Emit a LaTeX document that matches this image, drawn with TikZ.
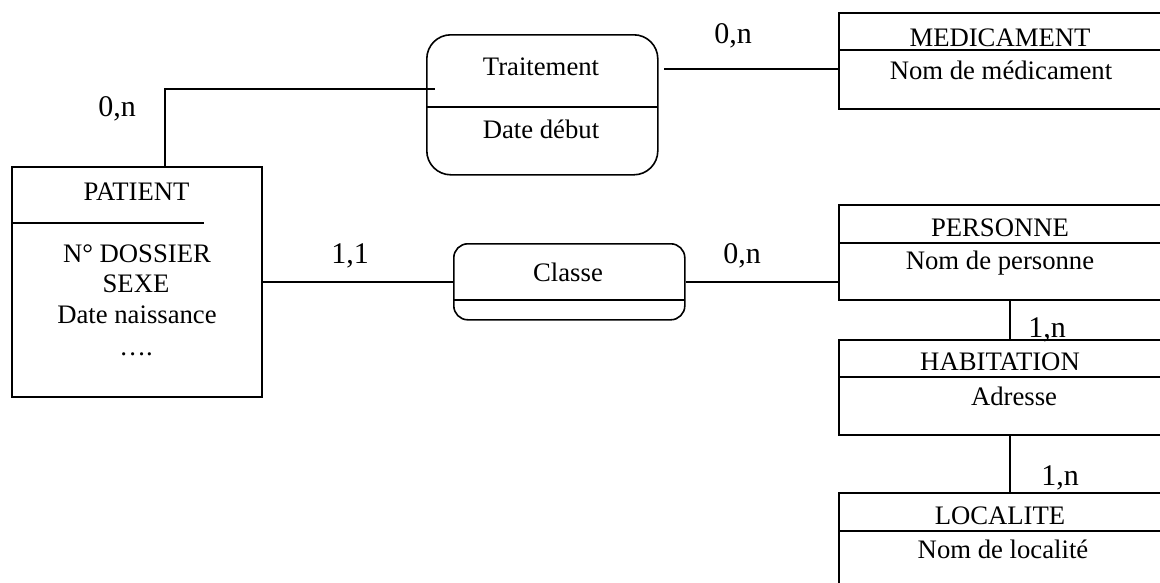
\documentclass[tikz,border=0pt]{standalone}
\usepackage{fontspec}
\setmainfont{Liberation Serif}
\usetikzlibrary{positioning}

\tikzset{
	entite/.style={draw, rectangle, anchor=north west, inner sep=0pt},
	assoc/.style={draw, rectangle, rounded corners=#1, anchor=north west, inner sep=0pt},
	txt/.style={anchor=base, inner sep=0pt, font=\fontsize{26.7}{30}\selectfont},
	card/.style={anchor=base, inner sep=0pt, font=\fontsize{30}{34}\selectfont}
}

\begin{document}
\begin{tikzpicture}[x=1pt, y=-1pt, line width=1.6pt]
	\clip (0,0) rectangle (1160,582);
	\useasboundingbox (0,0) rectangle (1160,582);
	% entites et associations
	\node[entite, minimum width=250pt, minimum height=230pt] (patient) at (11,166) {};
	\node[assoc=24pt, minimum width=231pt, minimum height=140pt] (traitement) at (426,34) {};
	\node[assoc=14pt, minimum width=231pt, minimum height=76pt] (classe) at (453,243) {};
	\node[entite, minimum width=324pt, minimum height=96pt] (medic) at (838,12) {};
	\node[entite, minimum width=324pt, minimum height=95pt] (personne) at (838,204) {};
	\node[entite, minimum width=324pt, minimum height=95pt] (habitation) at (838,339) {};
	\node[entite, minimum width=324pt, minimum height=100pt] (localite) at (838,492) {};
	\draw (11,223) -- (204,223);
	\draw (426,107) -- (657,107);
	\draw (453,300) -- (684,300);
	\draw (838,50) -- (1162,50);
	\draw (838,243) -- (1162,243);
	\draw (838,377) -- (1162,377);
	\draw (838,531) -- (1162,531);
	% textes
	\node[txt] (patient-nom) at (136.5,200) {PATIENT};
	\node[txt] (patient-a1) at (137,262) {N° DOSSIER};
	\node[txt] (patient-a2) at (136,292) {SEXE};
	\node[txt] (patient-a3) at (137,323) {Date naissance};
	\node[txt] (patient-a4) at (136,355) {….};
	\node[txt] (traitement-nom) at (541,75) {Traitement};
	\node[txt] (traitement-a1) at (541,138) {Date début};
	\node[txt] (classe-nom) at (568,281) {Classe};
	\node[txt] (medic-nom) at (1000,46.5) {MEDICAMENT};
	\node[txt] (medic-a1) at (1001,79) {Nom de médicament};
	\node[txt] (personne-nom) at (1000,236.5) {PERSONNE};
	\node[txt] (personne-a1) at (1000,269) {Nom de personne};
	\node[txt] (habitation-nom) at (1000,370.5) {HABITATION};
	\node[txt] (habitation-a1) at (1014,405) {Adresse};
	\node[txt] (localite-nom) at (1000,524.5) {LOCALITE};
	\node[txt] (localite-a1) at (1003,558) {Nom de localité};
	% liens
	\coordinate (p-haut) at (165,166);
	\coordinate (t-in) at (435,89);
	\coordinate (t-out) at (664,69);
	\coordinate (axe) at (1010,0);
	\draw (p-haut) |- (t-in);
	\draw (t-out) -- (medic.west |- t-out);
	\draw (patient.east) -- (classe.west);
	\draw (classe.east) -- (classe.east -| personne.west);
	\draw (personne.south -| axe) -- (habitation.north -| axe);
	\draw (habitation.south -| axe) -- (localite.north -| axe);
	% cardinalites
	\node[card] (c1) at (117,116) {0,n};
	\node[card] (c2) at (733,43) {0,n};
	\node[card] (c3) at (350,263) {1,1};
	\node[card] (c4) at (742,263) {0,n};
	\node[card] (c5) at (1047,337) {1,n};
	\node[card] (c6) at (1060,485) {1,n};
\end{tikzpicture}
\end{document}
